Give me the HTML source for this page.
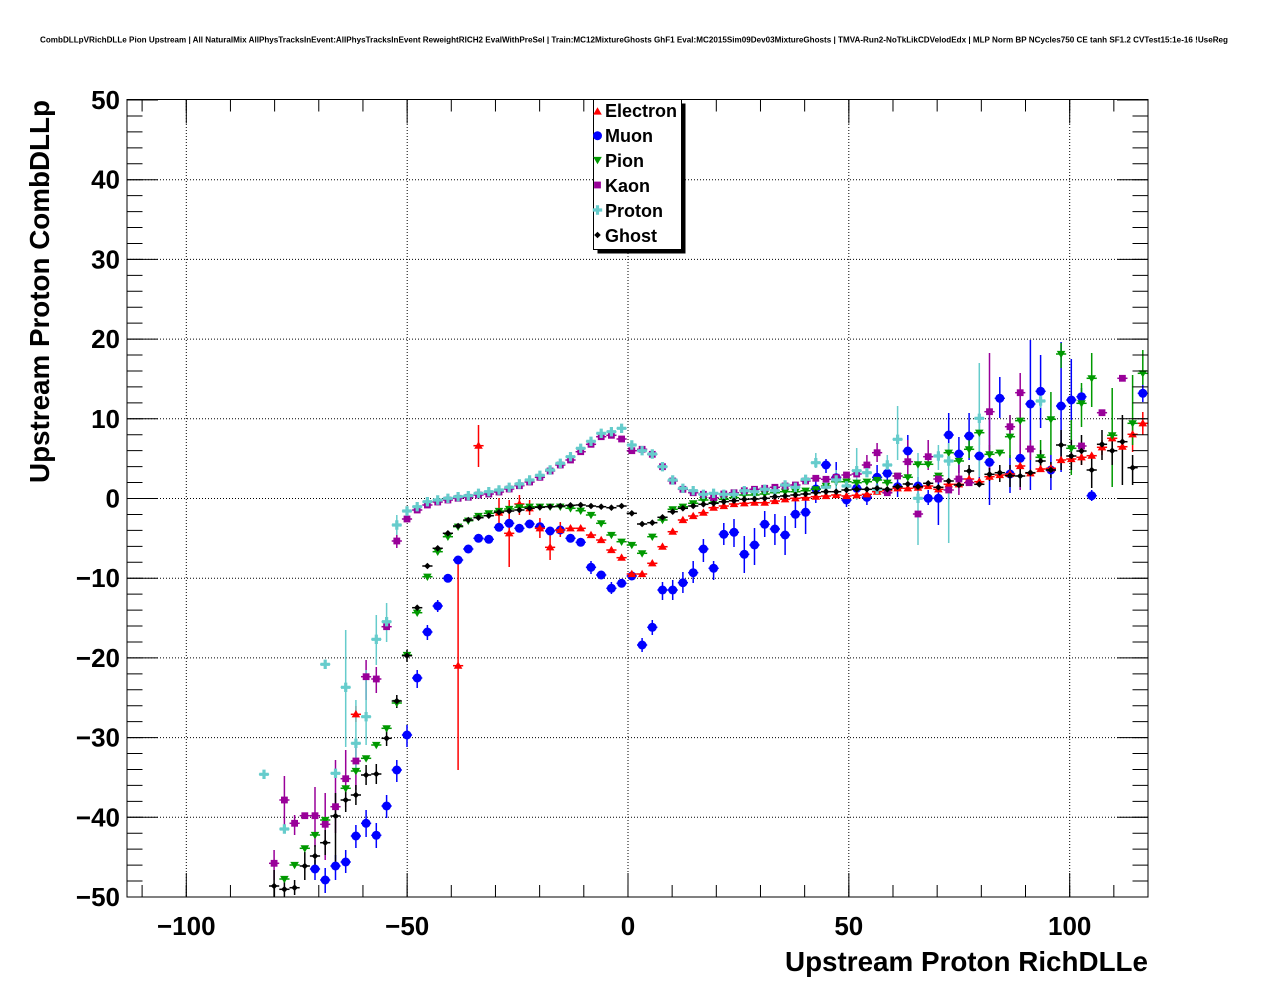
<!DOCTYPE html>
<html><head><meta charset="utf-8"><style>
html,body{margin:0;padding:0;background:#fff;}
svg{display:block;}
text{font-family:"Liberation Sans",Arial,sans-serif;font-weight:bold;fill:#000;}
</style></head><body>
<svg width="1276" height="996" viewBox="0 0 1276 996" xmlns="http://www.w3.org/2000/svg" xmlns:xlink="http://www.w3.org/1999/xlink">
<defs>
<path id="e" d="M0-4.3l4.3 7.4h-8.6z" fill="#ff0000"/>
<circle id="m" r="4.5" fill="#0000ff"/>
<path id="p" d="M-4.3-3.1h8.6l-4.3 7.4z" fill="#009900"/>
<rect id="k" x="-3.4" y="-3.4" width="6.8" height="6.8" fill="#990099"/>
<path id="r" d="M-1.6-4.7h3.2v3.1h3.1v3.2h-3.1v3.1h-3.2v-3.1h-3.1v-3.2h3.1z" fill="#66cccc"/>
<path id="g" d="M0-3.3l3.3 3.3-3.3 3.3-3.3-3.3z" fill="#000"/>
<g id="E"><path d="M-5.1 0h10.2" stroke="#ff0000" stroke-width="1.5"/><use href="#e"/></g>
<g id="M"><path d="M-5.1 0h10.2" stroke="#0000ff" stroke-width="1.5"/><use href="#m"/></g>
<g id="P"><path d="M-5.1 0h10.2" stroke="#009900" stroke-width="1.5"/><use href="#p"/></g>
<g id="K"><path d="M-5.1 0h10.2" stroke="#990099" stroke-width="1.5"/><use href="#k"/></g>
<g id="R"><path d="M-5.1 0h10.2" stroke="#66cccc" stroke-width="1.5"/><use href="#r"/></g>
<g id="G"><path d="M-5.1 0h10.2" stroke="#000" stroke-width="1.5"/><use href="#g"/></g>
</defs>
<rect width="1276" height="996" fill="#fff"/>

<text x="40" y="42.5" font-size="8" textLength="1188" lengthAdjust="spacingAndGlyphs">CombDLLpVRichDLLe Pion Upstream | All NaturalMix AllPhysTracksInEvent:AllPhysTracksInEvent ReweightRICH2 EvalWithPreSel | Train:MC12MixtureGhosts GhF1 Eval:MC2015Sim09Dev03MixtureGhosts | TMVA-Run2-NoTkLikCDVelodEdx | MLP Norm BP NCycles750 CE tanh SF1.2 CVTest15:1e-16 !UseReg</text>

<!-- grid -->
<g stroke="#000" stroke-width="1" stroke-dasharray="1 2" fill="none">
<path d="M186.3 100V897M407.2 100V897M628 100V897M848.8 100V897M1069.7 100V897"/>
<path d="M127 179.7H1148M127 259.4H1148M127 339.1H1148M127 418.8H1148M127 498.5H1148M127 578.2H1148M127 657.9H1148M127 737.6H1148M127 817.3H1148"/>
</g>

<!-- error bars (vertical) -->
<g stroke-width="1.5" fill="none">
<path stroke="#0000ff" d="M315 860V880M325.2 868V893M335.5 855V880M345.7 850V873M355.9 825V848M366.1 810V837M376.3 823V848M386.6 795V818M396.8 760V782M407 725V747M417.2 670V688M427.4 625V640M437.7 600V612M591 561V574M611.4 582V594M642.1 638V652M652.3 620V635M662.5 582V600M672.7 580V600M682.9 572V593M693.2 561V583M703.4 539V562M713.6 561V580M723.8 523V545M734 519V547M744.3 536V573M754.5 528V565M764.7 511V537M774.9 514V545M785.1 516V555M795.4 501V528M805.6 497V534M815.8 475V503M826 459V473M836.2 462V492M846.5 492V507M856.7 480V497M866.9 488V505M877.1 465V490M887.3 460V486M897.6 475V497M907.8 435V467M918 477V497M928.2 490V505M938.4 473V525M948.7 413V457M958.9 437V473M969.1 413V460M979.3 420V480M989.5 417V505M999.8 377V418M1010 455V493M1020.2 445V490M1030.4 340V490M1040.6 355V428M1050.9 455V490M1061.1 342V472M1071.3 359V470M1081.5 388V405M1091.7 490V501M1142.8 385V402"/>
<path stroke="#ff0000" d="M355.9 706V722M458.1 560V770M478.5 425V467M499 498V527M509.2 500V567M519.4 495V515M529.6 500V515M539.9 518V538M550.1 535V560M560.3 522V537M1020.2 460V472M1071.3 452V466M1081.5 450V465M1102 440V455M1132.6 420V452M1142.8 412V435"/>
<path stroke="#009900" d="M948.7 443V462M969.1 440V458M979.3 420V445M989.5 445V462M1010 415V458M1020.2 410V445M1040.6 440V470M1050.9 392V455M1061.1 343V368M1071.3 420V475M1081.5 383V427M1091.7 353V407M1112.2 388V487M1132.6 375V445M1142.8 350V385"/>
<path stroke="#990099" d="M274.1 850V880M284.4 776V827M294.6 815V835M315 787V847M325.2 793V860M335.5 760V833M345.7 750V807M355.9 745V790M366.1 660V700M376.3 667V693M396.8 535V548M866.9 455V475M877.1 443V462M907.8 440V480M928.2 440V470M948.7 480V500M958.9 465V495M989.5 353V470M1010 415V440M1020.2 373V490M1030.4 440V460"/>
<path stroke="#66cccc" d="M345.7 630V747M355.9 700V770M366.1 670V745M376.3 615V665M386.6 603V642M396.8 515V535M815.8 453V468M836.2 470V495M856.7 448V500M887.3 455V475M897.6 406V460M918 453V545M938.4 445V470M948.7 443V543M979.3 363V477M1040.6 395V408"/>
<path stroke="#000" d="M274.1 870V897M284.4 880V897M294.6 880V895M304.8 852V880M315 845V867M325.2 830V855M335.5 793V867M345.7 790V812M355.9 785V805M366.1 765V785M376.3 764V784M386.6 731V746M396.8 695V708M407 650V662M969.1 465V478M989.5 468V481M999.8 465V482M1010 465V487M1020.2 465V487M1040.6 450V472M1050.9 462V478M1061.1 430V470M1071.3 440V470M1081.5 435V465M1091.7 458V488M1102 430V460M1112.2 435V465M1122.4 415V485M1132.6 455V485"/>
</g>

<!-- Muon -->
<g>
<use href="#M" x="315" y="869"/><use href="#M" x="325.2" y="880"/><use href="#M" x="335.5" y="866"/><use href="#M" x="345.7" y="862"/><use href="#M" x="355.9" y="836"/><use href="#M" x="366.1" y="823.3"/><use href="#M" x="376.3" y="835.3"/><use href="#M" x="386.6" y="806"/><use href="#M" x="396.8" y="770"/><use href="#M" x="407" y="735"/><use href="#M" x="417.2" y="678"/><use href="#M" x="427.4" y="632"/><use href="#M" x="437.7" y="606"/><use href="#M" x="447.9" y="578.3"/><use href="#M" x="458.1" y="560"/><use href="#M" x="468.3" y="549"/><use href="#M" x="478.5" y="538.3"/><use href="#M" x="488.8" y="539.3"/><use href="#M" x="499" y="527.3"/><use href="#M" x="509.2" y="523.3"/><use href="#M" x="519.4" y="528.3"/><use href="#M" x="529.6" y="524"/><use href="#M" x="539.9" y="526.7"/><use href="#M" x="550.1" y="531"/><use href="#M" x="560.3" y="530"/><use href="#M" x="570.5" y="538.3"/><use href="#M" x="580.7" y="542.3"/><use href="#M" x="591" y="567.3"/><use href="#M" x="601.2" y="575"/><use href="#M" x="611.4" y="588.3"/><use href="#M" x="621.6" y="583.3"/><use href="#M" x="631.8" y="576"/><use href="#M" x="642.1" y="645"/><use href="#M" x="652.3" y="627.3"/><use href="#M" x="662.5" y="590"/><use href="#M" x="672.7" y="590"/><use href="#M" x="682.9" y="582.7"/><use href="#M" x="693.2" y="572.7"/><use href="#M" x="703.4" y="549"/><use href="#M" x="713.6" y="568.3"/><use href="#M" x="723.8" y="534.3"/><use href="#M" x="734" y="532.3"/><use href="#M" x="744.3" y="554.3"/><use href="#M" x="754.5" y="545"/><use href="#M" x="764.7" y="524.3"/><use href="#M" x="774.9" y="529"/><use href="#M" x="785.1" y="535"/><use href="#M" x="795.4" y="514.3"/><use href="#M" x="805.6" y="512.3"/><use href="#M" x="815.8" y="489"/><use href="#M" x="826" y="465"/><use href="#M" x="836.2" y="477.7"/><use href="#M" x="846.5" y="500"/><use href="#M" x="856.7" y="488.3"/><use href="#M" x="866.9" y="497.3"/><use href="#M" x="877.1" y="477.3"/><use href="#M" x="887.3" y="473.3"/><use href="#M" x="897.6" y="486.7"/><use href="#M" x="907.8" y="451"/><use href="#M" x="918" y="486"/><use href="#M" x="928.2" y="498.3"/><use href="#M" x="938.4" y="498.3"/><use href="#M" x="948.7" y="435"/><use href="#M" x="958.9" y="454"/><use href="#M" x="969.1" y="436"/><use href="#M" x="979.3" y="456"/><use href="#M" x="989.5" y="462.3"/><use href="#M" x="999.8" y="398.3"/><use href="#M" x="1010" y="474"/><use href="#M" x="1020.2" y="458.3"/><use href="#M" x="1030.4" y="404"/><use href="#M" x="1040.6" y="391.3"/><use href="#M" x="1050.9" y="470"/><use href="#M" x="1061.1" y="406"/><use href="#M" x="1071.3" y="400"/><use href="#M" x="1081.5" y="396.7"/><use href="#M" x="1091.7" y="495.7"/><use href="#M" x="1142.8" y="393.3"/>
</g>

<!-- Electron -->
<g>
<use href="#E" x="355.9" y="714.3"/><use href="#E" x="458.1" y="665.7"/><use href="#E" x="478.5" y="445.7"/><use href="#E" x="499" y="512.7"/><use href="#E" x="509.2" y="533.3"/><use href="#E" x="519.4" y="504"/><use href="#E" x="529.6" y="508.3"/><use href="#E" x="539.9" y="528.3"/><use href="#E" x="550.1" y="547.3"/><use href="#E" x="560.3" y="530"/><use href="#E" x="570.5" y="528.3"/><use href="#E" x="580.7" y="528.3"/><use href="#E" x="591" y="535"/><use href="#E" x="601.2" y="540"/><use href="#E" x="611.4" y="550"/><use href="#E" x="621.6" y="557.7"/><use href="#E" x="631.8" y="574"/><use href="#E" x="642.1" y="574"/><use href="#E" x="652.3" y="563.3"/><use href="#E" x="662.5" y="546.7"/><use href="#E" x="672.7" y="531.7"/><use href="#E" x="682.9" y="520"/><use href="#E" x="693.2" y="516"/><use href="#E" x="703.4" y="512.7"/><use href="#E" x="713.6" y="507.7"/><use href="#E" x="723.8" y="506"/><use href="#E" x="734" y="504"/><use href="#E" x="744.3" y="503.3"/><use href="#E" x="754.5" y="502.7"/><use href="#E" x="764.7" y="502.7"/><use href="#E" x="774.9" y="501"/><use href="#E" x="785.1" y="499.3"/><use href="#E" x="795.4" y="498.3"/><use href="#E" x="805.6" y="497.7"/><use href="#E" x="815.8" y="496.7"/><use href="#E" x="826" y="496"/><use href="#E" x="836.2" y="495"/><use href="#E" x="846.5" y="496"/><use href="#E" x="856.7" y="495.3"/><use href="#E" x="866.9" y="494.3"/><use href="#E" x="877.1" y="491.7"/><use href="#E" x="887.3" y="490.7"/><use href="#E" x="897.6" y="488.3"/><use href="#E" x="907.8" y="488.3"/><use href="#E" x="918" y="487.7"/><use href="#E" x="928.2" y="486"/><use href="#E" x="938.4" y="489.3"/><use href="#E" x="948.7" y="484.3"/><use href="#E" x="958.9" y="484.3"/><use href="#E" x="969.1" y="479"/><use href="#E" x="979.3" y="481.7"/><use href="#E" x="989.5" y="476.7"/><use href="#E" x="999.8" y="475"/><use href="#E" x="1010" y="474"/><use href="#E" x="1020.2" y="466"/><use href="#E" x="1030.4" y="473.3"/><use href="#E" x="1040.6" y="469"/><use href="#E" x="1050.9" y="468.3"/><use href="#E" x="1061.1" y="460"/><use href="#E" x="1071.3" y="459"/><use href="#E" x="1081.5" y="457.3"/><use href="#E" x="1091.7" y="455.7"/><use href="#E" x="1102" y="447.3"/><use href="#E" x="1112.2" y="438.3"/><use href="#E" x="1122.4" y="446.7"/><use href="#E" x="1132.6" y="434.3"/><use href="#E" x="1142.8" y="423.3"/>
</g>

<!-- Pion -->
<g>
<use href="#P" x="284.4" y="879"/><use href="#P" x="294.6" y="865"/><use href="#P" x="304.8" y="848.3"/><use href="#P" x="315" y="835"/><use href="#P" x="325.2" y="820"/><use href="#P" x="345.7" y="788.3"/><use href="#P" x="355.9" y="771"/><use href="#P" x="366.1" y="758.3"/><use href="#P" x="376.3" y="745"/><use href="#P" x="386.6" y="728.3"/><use href="#P" x="396.8" y="703"/><use href="#P" x="407" y="655"/><use href="#P" x="417.2" y="612.7"/><use href="#P" x="427.4" y="576.7"/><use href="#P" x="437.7" y="551.7"/><use href="#P" x="447.9" y="536.7"/><use href="#P" x="458.1" y="526.7"/><use href="#P" x="468.3" y="520.7"/><use href="#P" x="478.5" y="516"/><use href="#P" x="488.8" y="513.3"/><use href="#P" x="499" y="511"/><use href="#P" x="509.2" y="509"/><use href="#P" x="519.4" y="507.3"/><use href="#P" x="529.6" y="506.7"/><use href="#P" x="539.9" y="506.7"/><use href="#P" x="550.1" y="506.7"/><use href="#P" x="560.3" y="506.7"/><use href="#P" x="570.5" y="508.3"/><use href="#P" x="580.7" y="510.7"/><use href="#P" x="591" y="515"/><use href="#P" x="601.2" y="523.3"/><use href="#P" x="611.4" y="535"/><use href="#P" x="621.6" y="541.7"/><use href="#P" x="631.8" y="545"/><use href="#P" x="642.1" y="553.3"/><use href="#P" x="652.3" y="536.7"/><use href="#P" x="662.5" y="520"/><use href="#P" x="672.7" y="509.3"/><use href="#P" x="682.9" y="506.7"/><use href="#P" x="693.2" y="503.3"/><use href="#P" x="703.4" y="500"/><use href="#P" x="713.6" y="502.7"/><use href="#P" x="723.8" y="499.3"/><use href="#P" x="734" y="497.7"/><use href="#P" x="744.3" y="495"/><use href="#P" x="754.5" y="495"/><use href="#P" x="764.7" y="494"/><use href="#P" x="774.9" y="492.7"/><use href="#P" x="785.1" y="491.7"/><use href="#P" x="795.4" y="491.7"/><use href="#P" x="805.6" y="490.7"/><use href="#P" x="815.8" y="489.3"/><use href="#P" x="826" y="486"/><use href="#P" x="836.2" y="481.7"/><use href="#P" x="846.5" y="481.7"/><use href="#P" x="856.7" y="482.7"/><use href="#P" x="866.9" y="481.7"/><use href="#P" x="877.1" y="480"/><use href="#P" x="887.3" y="482.7"/><use href="#P" x="897.6" y="476"/><use href="#P" x="907.8" y="477.3"/><use href="#P" x="918" y="464.3"/><use href="#P" x="928.2" y="464.3"/><use href="#P" x="938.4" y="475.7"/><use href="#P" x="948.7" y="452.7"/><use href="#P" x="958.9" y="461"/><use href="#P" x="969.1" y="449.3"/><use href="#P" x="979.3" y="432.7"/><use href="#P" x="989.5" y="454.3"/><use href="#P" x="999.8" y="452.7"/><use href="#P" x="1010" y="436.7"/><use href="#P" x="1020.2" y="420.7"/><use href="#P" x="1040.6" y="457.3"/><use href="#P" x="1050.9" y="419.3"/><use href="#P" x="1061.1" y="354"/><use href="#P" x="1071.3" y="448.3"/><use href="#P" x="1081.5" y="403.3"/><use href="#P" x="1091.7" y="378.3"/><use href="#P" x="1112.2" y="435.3"/><use href="#P" x="1132.6" y="423.3"/><use href="#P" x="1142.8" y="373.3"/>
</g>

<!-- Kaon -->
<g>
<use href="#K" x="274.1" y="863.3"/><use href="#K" x="284.4" y="800"/><use href="#K" x="294.6" y="823.3"/><use href="#K" x="304.8" y="815.7"/><use href="#K" x="315" y="815.7"/><use href="#K" x="325.2" y="824.3"/><use href="#K" x="335.5" y="806.7"/><use href="#K" x="345.7" y="778.7"/><use href="#K" x="355.9" y="761"/><use href="#K" x="366.1" y="676.7"/><use href="#K" x="376.3" y="679"/><use href="#K" x="386.6" y="626.7"/><use href="#K" x="396.8" y="541"/><use href="#K" x="407" y="519"/><use href="#K" x="417.2" y="510"/><use href="#K" x="427.4" y="505"/><use href="#K" x="437.7" y="502"/><use href="#K" x="447.9" y="500"/><use href="#K" x="458.1" y="498.3"/><use href="#K" x="468.3" y="497.3"/><use href="#K" x="478.5" y="495"/><use href="#K" x="488.8" y="494"/><use href="#K" x="499" y="492"/><use href="#K" x="509.2" y="489"/><use href="#K" x="519.4" y="485.7"/><use href="#K" x="529.6" y="482"/><use href="#K" x="539.9" y="477.3"/><use href="#K" x="550.1" y="471"/><use href="#K" x="560.3" y="465"/><use href="#K" x="570.5" y="460"/><use href="#K" x="580.7" y="451.7"/><use href="#K" x="591" y="444.3"/><use href="#K" x="601.2" y="436.7"/><use href="#K" x="611.4" y="435.3"/><use href="#K" x="621.6" y="439"/><use href="#K" x="631.8" y="450.7"/><use href="#K" x="642.1" y="449.3"/><use href="#K" x="652.3" y="454.3"/><use href="#K" x="662.5" y="466.7"/><use href="#K" x="672.7" y="481"/><use href="#K" x="682.9" y="489.3"/><use href="#K" x="693.2" y="492.7"/><use href="#K" x="703.4" y="494.3"/><use href="#K" x="713.6" y="497.7"/><use href="#K" x="723.8" y="494"/><use href="#K" x="734" y="492.7"/><use href="#K" x="744.3" y="490.7"/><use href="#K" x="754.5" y="489.3"/><use href="#K" x="764.7" y="488.3"/><use href="#K" x="774.9" y="487.3"/><use href="#K" x="785.1" y="486"/><use href="#K" x="795.4" y="485"/><use href="#K" x="805.6" y="481"/><use href="#K" x="815.8" y="478.3"/><use href="#K" x="826" y="479.3"/><use href="#K" x="836.2" y="477.3"/><use href="#K" x="846.5" y="475"/><use href="#K" x="856.7" y="474"/><use href="#K" x="866.9" y="465"/><use href="#K" x="877.1" y="452.7"/><use href="#K" x="887.3" y="492.7"/><use href="#K" x="897.6" y="476"/><use href="#K" x="907.8" y="461.7"/><use href="#K" x="918" y="514"/><use href="#K" x="928.2" y="456.7"/><use href="#K" x="938.4" y="479"/><use href="#K" x="948.7" y="490"/><use href="#K" x="958.9" y="479"/><use href="#K" x="969.1" y="482.7"/><use href="#K" x="989.5" y="411.7"/><use href="#K" x="1010" y="426.7"/><use href="#K" x="1020.2" y="392.7"/><use href="#K" x="1030.4" y="449"/><use href="#K" x="1081.5" y="446"/><use href="#K" x="1102" y="412.7"/><use href="#K" x="1122.4" y="378.3"/>
</g>

<!-- Proton -->
<g>
<use href="#R" x="264" y="774.3"/><use href="#R" x="284.4" y="829"/><use href="#R" x="325.2" y="664.3"/><use href="#R" x="335.5" y="773.3"/><use href="#R" x="345.7" y="687.3"/><use href="#R" x="355.9" y="743.3"/><use href="#R" x="366.1" y="716.7"/><use href="#R" x="376.3" y="639.3"/><use href="#R" x="386.6" y="621.7"/><use href="#R" x="396.8" y="525"/><use href="#R" x="407" y="511"/><use href="#R" x="417.2" y="506.7"/><use href="#R" x="427.4" y="501.7"/><use href="#R" x="437.7" y="500"/><use href="#R" x="447.9" y="498.3"/><use href="#R" x="458.1" y="496.7"/><use href="#R" x="468.3" y="495.7"/><use href="#R" x="478.5" y="493.3"/><use href="#R" x="488.8" y="491.7"/><use href="#R" x="499" y="490"/><use href="#R" x="509.2" y="487.3"/><use href="#R" x="519.4" y="484"/><use href="#R" x="529.6" y="480"/><use href="#R" x="539.9" y="475.3"/><use href="#R" x="550.1" y="470"/><use href="#R" x="560.3" y="463.3"/><use href="#R" x="570.5" y="456.7"/><use href="#R" x="580.7" y="448.3"/><use href="#R" x="591" y="441.3"/><use href="#R" x="601.2" y="433.3"/><use href="#R" x="611.4" y="431.7"/><use href="#R" x="621.6" y="428.3"/><use href="#R" x="631.8" y="445"/><use href="#R" x="642.1" y="450.7"/><use href="#R" x="652.3" y="454"/><use href="#R" x="662.5" y="466.7"/><use href="#R" x="672.7" y="480"/><use href="#R" x="682.9" y="488.3"/><use href="#R" x="693.2" y="490.7"/><use href="#R" x="703.4" y="494.3"/><use href="#R" x="713.6" y="493.3"/><use href="#R" x="723.8" y="494.3"/><use href="#R" x="734" y="494.3"/><use href="#R" x="744.3" y="490.7"/><use href="#R" x="754.5" y="491.7"/><use href="#R" x="764.7" y="489.3"/><use href="#R" x="774.9" y="490.7"/><use href="#R" x="785.1" y="485"/><use href="#R" x="795.4" y="487.3"/><use href="#R" x="805.6" y="479.3"/><use href="#R" x="815.8" y="462.7"/><use href="#R" x="826" y="487.3"/><use href="#R" x="836.2" y="480"/><use href="#R" x="846.5" y="486"/><use href="#R" x="856.7" y="470.7"/><use href="#R" x="866.9" y="472.7"/><use href="#R" x="877.1" y="489.3"/><use href="#R" x="887.3" y="465"/><use href="#R" x="897.6" y="439.3"/><use href="#R" x="918" y="498.3"/><use href="#R" x="938.4" y="456"/><use href="#R" x="948.7" y="461"/><use href="#R" x="979.3" y="418.3"/><use href="#R" x="1040.6" y="401"/>
</g>

<!-- Ghost -->
<g>
<use href="#G" x="274.1" y="886"/><use href="#G" x="284.4" y="889.3"/><use href="#G" x="294.6" y="887.7"/><use href="#G" x="304.8" y="866"/><use href="#G" x="315" y="856"/><use href="#G" x="325.2" y="842.7"/><use href="#G" x="335.5" y="816"/><use href="#G" x="345.7" y="800"/><use href="#G" x="355.9" y="795"/><use href="#G" x="366.1" y="775"/><use href="#G" x="376.3" y="774"/><use href="#G" x="386.6" y="738.3"/><use href="#G" x="396.8" y="701"/><use href="#G" x="407" y="655.7"/><use href="#G" x="417.2" y="607.7"/><use href="#G" x="427.4" y="566"/><use href="#G" x="437.7" y="548.3"/><use href="#G" x="447.9" y="533.3"/><use href="#G" x="458.1" y="526"/><use href="#G" x="468.3" y="520"/><use href="#G" x="478.5" y="517.7"/><use href="#G" x="488.8" y="515.7"/><use href="#G" x="499" y="512.3"/><use href="#G" x="509.2" y="511"/><use href="#G" x="519.4" y="510"/><use href="#G" x="529.6" y="508.3"/><use href="#G" x="539.9" y="507.3"/><use href="#G" x="550.1" y="506.7"/><use href="#G" x="560.3" y="506"/><use href="#G" x="570.5" y="505.3"/><use href="#G" x="580.7" y="505"/><use href="#G" x="591" y="506"/><use href="#G" x="601.2" y="506.7"/><use href="#G" x="611.4" y="507.7"/><use href="#G" x="621.6" y="506"/><use href="#G" x="631.8" y="513.3"/><use href="#G" x="642.1" y="524"/><use href="#G" x="652.3" y="522.7"/><use href="#G" x="662.5" y="517.3"/><use href="#G" x="672.7" y="511.7"/><use href="#G" x="682.9" y="508.3"/><use href="#G" x="693.2" y="506"/><use href="#G" x="703.4" y="504.3"/><use href="#G" x="713.6" y="503.3"/><use href="#G" x="723.8" y="501.7"/><use href="#G" x="734" y="500.7"/><use href="#G" x="744.3" y="499.3"/><use href="#G" x="754.5" y="499"/><use href="#G" x="764.7" y="498.3"/><use href="#G" x="774.9" y="496.7"/><use href="#G" x="785.1" y="496"/><use href="#G" x="795.4" y="495"/><use href="#G" x="805.6" y="494"/><use href="#G" x="815.8" y="492.7"/><use href="#G" x="826" y="491.7"/><use href="#G" x="836.2" y="491.7"/><use href="#G" x="846.5" y="490"/><use href="#G" x="856.7" y="489.3"/><use href="#G" x="866.9" y="489.3"/><use href="#G" x="877.1" y="488.3"/><use href="#G" x="887.3" y="489.3"/><use href="#G" x="897.6" y="486.7"/><use href="#G" x="907.8" y="484"/><use href="#G" x="918" y="486.7"/><use href="#G" x="928.2" y="483.3"/><use href="#G" x="938.4" y="487.3"/><use href="#G" x="948.7" y="481"/><use href="#G" x="958.9" y="485"/><use href="#G" x="969.1" y="471"/><use href="#G" x="979.3" y="484.3"/><use href="#G" x="989.5" y="474.3"/><use href="#G" x="999.8" y="472.7"/><use href="#G" x="1010" y="475.7"/><use href="#G" x="1020.2" y="476"/><use href="#G" x="1030.4" y="472.7"/><use href="#G" x="1040.6" y="461"/><use href="#G" x="1050.9" y="470"/><use href="#G" x="1061.1" y="445"/><use href="#G" x="1071.3" y="456"/><use href="#G" x="1081.5" y="451"/><use href="#G" x="1091.7" y="470"/><use href="#G" x="1102" y="444.3"/><use href="#G" x="1112.2" y="450.7"/><use href="#G" x="1122.4" y="441.7"/><use href="#G" x="1132.6" y="467.7"/>
</g>

<!-- frame & ticks -->
<g stroke="#000" fill="none">
<rect x="127" y="99.5" width="1021" height="797.5" stroke-width="1"/>
<line x1="134.75" y1="99.5" x2="134.75" y2="898" stroke-width="15.5" stroke-dasharray="1 14.94"/>
<line x1="142.5" y1="99.5" x2="142.5" y2="898" stroke-width="31" stroke-dasharray="1 78.7"/>
<line x1="1140.25" y1="99.5" x2="1140.25" y2="898" stroke-width="15.5" stroke-dasharray="1 14.94"/>
<line x1="1132.5" y1="99.5" x2="1132.5" y2="898" stroke-width="31" stroke-dasharray="1 78.7"/>
<line x1="141.6" y1="891" x2="1148" y2="891" stroke-width="12" stroke-dasharray="1 43.17"/>
<line x1="185.8" y1="885" x2="1148" y2="885" stroke-width="24" stroke-dasharray="1 219.85"/>
<line x1="141.6" y1="105.5" x2="1148" y2="105.5" stroke-width="12" stroke-dasharray="1 43.17"/>
<line x1="185.8" y1="111.5" x2="1148" y2="111.5" stroke-width="24" stroke-dasharray="1 219.85"/>
</g>

<!-- Y tick labels -->
<g font-size="26" text-anchor="end">
<text x="120" y="109">50</text>
<text x="120" y="188.7">40</text>
<text x="120" y="268.4">30</text>
<text x="120" y="348.1">20</text>
<text x="120" y="427.8">10</text>
<text x="120" y="507.5">0</text>
<text x="120" y="587.2">−10</text>
<text x="120" y="666.9">−20</text>
<text x="120" y="746.6">−30</text>
<text x="120" y="826.3">−40</text>
<text x="120" y="906">−50</text>
</g>
<!-- X tick labels -->
<g font-size="26" text-anchor="middle">
<text x="186.3" y="935">−100</text>
<text x="407.2" y="935">−50</text>
<text x="628" y="935">0</text>
<text x="848.8" y="935">50</text>
<text x="1069.7" y="935">100</text>
</g>

<text x="1148" y="971" font-size="28" text-anchor="end" textLength="363" lengthAdjust="spacingAndGlyphs">Upstream Proton RichDLLe</text>
<text transform="translate(49,100) rotate(-90)" font-size="28" text-anchor="end" textLength="383" lengthAdjust="spacingAndGlyphs">Upstream Proton CombDLLp</text>

<!-- legend -->
<rect x="597.5" y="103.5" width="88" height="150" fill="#000"/>
<rect x="593.5" y="99.5" width="88" height="150" fill="#fff" stroke="#000" stroke-width="1"/>
<use href="#e" x="597.5" y="111.5"/>
<use href="#m" x="597.5" y="135.7"/>
<use href="#p" x="597.5" y="160"/>
<use href="#k" x="597.5" y="185"/>
<use href="#r" x="597.5" y="210"/>
<use href="#g" x="597.5" y="235"/>
<g font-size="18">
<text x="605" y="117">Electron</text>
<text x="605" y="142">Muon</text>
<text x="605" y="167">Pion</text>
<text x="605" y="192">Kaon</text>
<text x="605" y="217">Proton</text>
<text x="605" y="242">Ghost</text>
</g>
</svg>
</body></html>
